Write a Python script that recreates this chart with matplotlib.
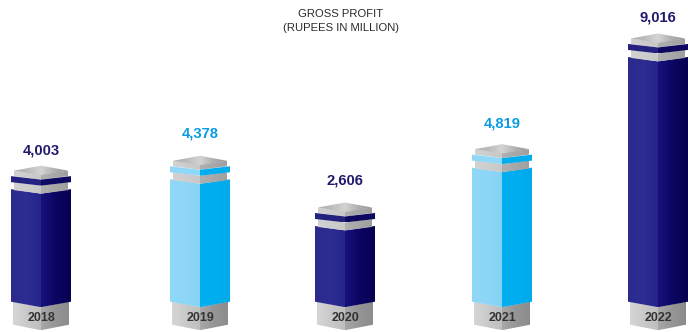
import numpy as np
import matplotlib.pyplot as plt
from matplotlib.colors import LinearSegmentedColormap
from matplotlib.patches import Polygon

years = ["2018", "2019", "2020", "2021", "2022"]
gross_profit = [4003, 4378, 2606, 4819, 9016]
centers = [41, 200, 345, 502, 658]
label_lift = [39, 46, 45, 44, 39]
title_lines = ["GROSS PROFIT", "(RUPEES IN MILLION)"]

NAVY = "#1f1a6e"
CYAN = "#0a9be0"
dark_style = {
    "label": NAVY,
    "left": ["#2b2a8c", "#2d2d92", "#26248a"],
    "right": ["#17127a", "#0b0662", "#06004e"],
    "band_left": "#24227f",
    "band_right": "#0d0860",
}
light_style = {
    "label": CYAN,
    "left": ["#8fd8f8", "#8ed6f7", "#86d3f6"],
    "right": ["#00aeef", "#00aeef", "#00aaeb"],
    "band_left": "#8fd8f8",
    "band_right": "#00aeef",
}
styles = [dark_style, light_style, dark_style, light_style, dark_style]

# pixels per rupee-million, and where zero falls down the canvas
scale = 0.02637
y_zero = 294.7
plt.rcParams["font.family"] = ["Liberation Sans", "DejaVu Sans"]

fig = plt.figure(figsize=(6.88, 3.32), dpi=100)
ax = fig.add_axes([0, 0, 1, 1])
x_lim = (0, 688)
y_lim = ((y_zero - 332) / scale, y_zero / scale)


def up(value, px):
    # value shifted by a fixed number of pixels (positive = downwards)
    return value - px / scale


def shade(pts, colors, zorder):
    xs = [p[0] for p in pts]
    ys = [p[1] for p in pts]
    cmap = LinearSegmentedColormap.from_list("face", colors)
    grad = np.linspace(0, 1, 64).reshape(1, -1)
    im = ax.imshow(grad, cmap=cmap, aspect="auto", zorder=zorder,
                   extent=(min(xs), max(xs), min(ys), max(ys)))
    im.set_clip_path(Polygon(pts, transform=ax.transData))


def prism(cx, half, value, top, bottom, left, right, zorder, rise=3.5):
    # two faces of a box seen from a corner; top/bottom are pixel offsets
    shade([(cx - half, up(value, top)), (cx, up(value, top + rise)),
           (cx, up(value, bottom + rise)), (cx - half, up(value, bottom))], left, zorder)
    shade([(cx, up(value, top + rise)), (cx + half, up(value, top)),
           (cx + half, up(value, bottom)), (cx, up(value, bottom + rise))], right, zorder)


for year, value, cx, st, lift in zip(years, gross_profit, centers, styles, label_lift):
    # plinth under the column
    prism(cx, 28, 0, 7, 30, ["#d6d6d6", "#c9c9c9", "#bfbfbf"],
          ["#a8a8a8", "#969696", "#8c8c8c"], 2, rise=5.5)

    # column body, from the plinth up to the value
    half = 30
    shade([(cx - half, value), (cx, up(value, 4.5)), (cx, up(0, 12.5)), (cx - half, up(0, 7))],
          st["left"], 3)
    shade([(cx, up(value, 4.5)), (cx + half, value), (cx + half, up(0, 7)), (cx, up(0, 12.5))],
          st["right"], 3)

    # cap: grey collar, coloured band, grey collar, lid
    prism(cx, 27, value, -7, 1, ["#d2d2d2", "#c8c8c8"], ["#b0b0b0", "#a0a0a0"], 4)
    prism(cx, 30, value, -13, -7, [st["band_left"], st["band_left"]],
          [st["band_right"], st["band_right"]], 5)
    prism(cx, 27, value, -18.5, -13, ["#d2d2d2", "#c8c8c8"], ["#b0b0b0", "#a0a0a0"], 4)
    lid = [(cx - 27, up(value, -18.5)), (cx, up(value, -23.5)),
           (cx + 27, up(value, -18.5)), (cx, up(value, -14))]
    shade(lid, ["#b0b0b0", "#bcbcbc", "#d4d4d4", "#b0b0b0", "#989898"], 6)

    ax.text(cx, up(value, -lift), f"{value:,}", color=st["label"], fontsize=10.6,
            fontweight="bold", ha="center", va="center", zorder=7)
    ax.text(cx + 0.5, up(0, 23), year, color="#333333", fontsize=9,
            fontweight="bold", ha="center", va="center", zorder=7)

ax.text(341, up(0, 14 - y_zero), title_lines[0], color="#2a2a2a", fontsize=8.1,
        ha="center", va="center")
ax.text(341, up(0, 28 - y_zero), title_lines[1], color="#2a2a2a", fontsize=8.1,
        ha="center", va="center")

ax.set_xlim(*x_lim)
ax.set_ylim(*y_lim)
ax.axis("off")
fig.savefig("out.png", dpi=100)
